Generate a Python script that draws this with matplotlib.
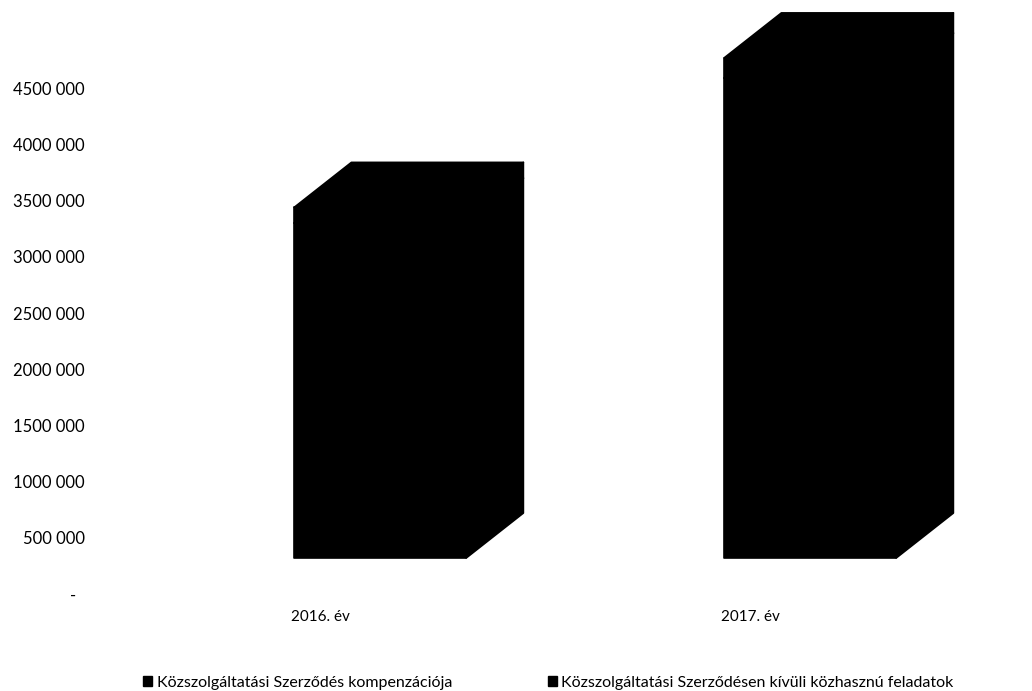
import matplotlib
matplotlib.use('Agg')
import matplotlib.pyplot as plt
from matplotlib.patches import Polygon, Patch

plt.rcParams['font.family'] = ['Lato', 'DejaVu Sans']

# data (both series are printed black, stacked)
years = ['2016. év', '2017. év']
kompenzacio = [2980000, 4270000]
kozhasznu = [140000, 180000]
series_names = ['Közszolgáltatási Szerződés kompenzációja',
                'Közszolgáltatási Szerződésen kívüli közhasznú feladatok']
yticks = [0, 500000, 1000000, 1500000, 2000000, 2500000,
          3000000, 3500000, 4000000, 4500000]
ytick_labels = ['-  ', '500 000', '1000 000', '1500 000', '2000 000', '2500 000',
                '3000 000', '3500 000', '4000 000', '4500 000']

# 3d look
floor = 320000      # front edge of the floor sits a bit above zero
bar_off = -0.06     # front face starts left of the category tick
bar_w = 0.40
depth_x = 0.133
depth_y = 400000


def prism(ax, x0, y0, y1, color='black'):
    front = [(x0, y0), (x0 + bar_w, y0), (x0 + bar_w, y1), (x0, y1)]
    top = [(x0, y1), (x0 + bar_w, y1), (x0 + bar_w + depth_x, y1 + depth_y),
           (x0 + depth_x, y1 + depth_y)]
    side = [(x0 + bar_w, y0), (x0 + bar_w + depth_x, y0 + depth_y),
            (x0 + bar_w + depth_x, y1 + depth_y), (x0 + bar_w, y1)]
    for pts in (side, top, front):
        ax.add_patch(Polygon(pts, closed=True, facecolor=color,
                             edgecolor=color, lw=1.2, joinstyle='round',
                             clip_on=False))


fig = plt.figure(figsize=(10.32, 6.91), dpi=100)
ax = fig.add_axes([100 / 1032, 91 / 691, 932 / 1032, 600 / 691])

for i in range(len(years)):
    x0 = i + bar_off
    b = floor
    for vals in (kompenzacio, kozhasznu):
        prism(ax, x0, b, b + vals[i])
        b += vals[i]

ax.set_xlim(-0.5116, 1.6558)
ax.set_ylim(-53380, 5284700)
ax.set_yticks(yticks)
ax.set_yticklabels(ytick_labels, fontsize=12)
ax.set_xticks(range(len(years)))
ax.set_xticklabels(years, fontsize=11)
ax.tick_params(axis='y', length=0, pad=11)
ax.tick_params(axis='x', length=0, pad=7)
for s in ax.spines.values():
    s.set_visible(False)

handles = [Patch(facecolor='black', edgecolor='black'),
           Patch(facecolor='black', edgecolor='black')]
fig.legend(handles, series_names, loc='lower left',
           bbox_to_anchor=(143 / 1032, 0.002), ncol=2, frameon=False,
           fontsize=11.5, handlelength=0.55, handleheight=0.55,
           handletextpad=0.3, columnspacing=6.0, borderpad=0,
           borderaxespad=0)

plt.savefig('out.png', dpi=100)
